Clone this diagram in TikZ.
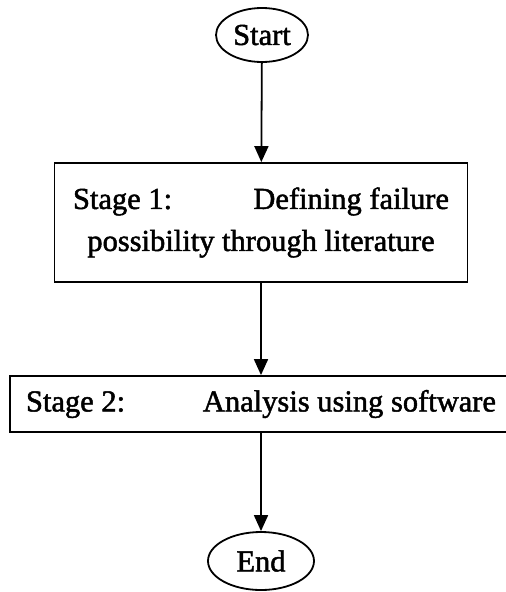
\documentclass[tikz,border=0pt]{standalone}
\usepackage{fontspec}
\setmainfont{Liberation Serif}
\newfontfamily\scanfont{Liberation Serif}[FakeBold=1.6]
\usetikzlibrary{shapes.geometric,arrows.meta}

\begin{document}
\begin{tikzpicture}[x=1pt, y=1pt,
    term/.style={ellipse, draw=black, line width=1.8pt, inner sep=0pt, font=\scanfont\fontsize{30.5}{36}\selectfont},
    stagebox/.style={rectangle, draw=black, line width=1.8pt, inner sep=0pt, align=center, font=\scanfont\fontsize{30.5}{42}\selectfont},
    arrow/.style={-{Triangle[length=16pt,width=14pt]}, line width=1.8pt}
]
\useasboundingbox (0,0) rectangle (506,-592);

\node[term, minimum width=92pt, minimum height=54pt] (start) at (262,-35) {Start};
\node[stagebox, minimum width=413pt, minimum height=119pt] (stage1) at (261,-222.5)
    {\hbox to 376pt{Stage 1:\hfill Defining failure}\\ possibility through literature};
\node[stagebox, minimum width=502pt, minimum height=56pt] (stage2) at (261,-404)
    {\hbox to 470pt{Stage 2:\hfill Analysis using software}};
\node[term, minimum width=106pt, minimum height=58pt] (end) at (261,-561) {End};

\draw[arrow] (start) -- (stage1);
\draw[arrow] (stage1) -- (stage2);
\draw[arrow] (stage2) -- (end);

\end{tikzpicture}
\end{document}
